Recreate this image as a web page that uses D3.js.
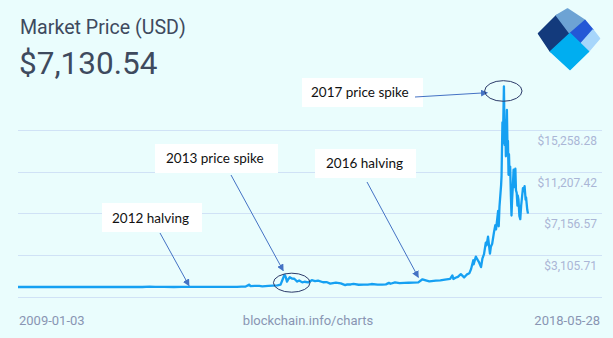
<!DOCTYPE html>
<html>
<head>
<meta charset="utf-8">
<script src="https://cdn.jsdelivr.net/npm/d3@7/dist/d3.min.js"></script>
<style>
  html, body { margin: 0; padding: 0; background: #eafdfd; }
  svg { display: block; }
</style>
</head>
<body>
<svg id="chart" width="613" height="338"></svg>
<script>
// Bitcoin market price (USD), sampled dates and prices
const dates = [
  "2009-01-03","2010-07-17","2010-11-06","2011-02-10","2011-04-20","2011-06-08","2011-07-15","2011-09-15","2011-11-18",
  "2012-01-08","2012-03-15","2012-06-15","2012-08-16","2012-10-15","2012-11-28",
  "2013-01-15","2013-02-15","2013-03-15","2013-04-09","2013-04-16","2013-05-15","2013-06-15","2013-07-05","2013-08-15",
  "2013-09-15","2013-10-15","2013-11-05","2013-11-18","2013-11-30","2013-12-04","2013-12-10","2013-12-18","2013-12-27",
  "2014-01-06","2014-01-20","2014-02-05","2014-02-25","2014-03-10","2014-03-31","2014-04-15","2014-05-10","2014-06-03",
  "2014-06-25","2014-07-15","2014-08-18","2014-09-10","2014-10-05","2014-11-12","2014-12-15",
  "2015-01-14","2015-01-28","2015-02-20","2015-03-11","2015-04-14","2015-05-20","2015-06-15","2015-07-10","2015-08-20",
  "2015-09-20","2015-10-15","2015-11-04","2015-11-15","2015-12-15",
  "2016-01-15","2016-02-15","2016-03-15","2016-04-15","2016-05-20","2016-06-17","2016-07-09","2016-08-02","2016-09-15",
  "2016-10-15","2016-11-15","2016-12-20",
  "2017-01-04","2017-01-11","2017-01-25","2017-02-10","2017-03-02","2017-03-24","2017-04-10","2017-04-28","2017-05-10",
  "2017-05-25","2017-05-27","2017-06-11","2017-06-20","2017-07-01","2017-07-16","2017-07-25","2017-08-05","2017-08-17",
  "2017-08-22","2017-09-01","2017-09-14","2017-09-20","2017-09-29","2017-10-12","2017-10-20","2017-10-25","2017-11-08",
  "2017-11-12","2017-11-17","2017-11-28","2017-12-01","2017-12-07","2017-12-10","2017-12-17","2017-12-22","2017-12-26",
  "2017-12-30","2018-01-06","2018-01-10","2018-01-13","2018-01-17","2018-01-20","2018-01-24","2018-01-28","2018-02-02",
  "2018-02-06","2018-02-10","2018-02-14","2018-02-20","2018-02-24","2018-03-04","2018-03-08","2018-03-13","2018-03-18",
  "2018-03-20","2018-03-25","2018-03-31","2018-04-06","2018-04-12","2018-04-24","2018-04-27","2018-05-05","2018-05-12",
  "2018-05-15","2018-05-23","2018-05-28"
];
const prices = [
  0,0.05,0.4,1.0,1.5,29.6,14,5,2.3,
  7,5,6.5,13.5,12,12.3,
  14,27,47,230,90,115,100,70,100,
  125,150,230,700,1150,1150,950,520,760,
  950,820,800,530,630,450,510,440,660,
  580,620,460,480,330,420,350,
  180,260,245,295,218,235,235,290,230,
  230,255,400,315,440,
  375,400,415,430,445,750,650,540,610,
  640,710,790,
  1130,780,900,990,1250,930,1200,1330,1750,
  2600,2200,2950,2700,2450,1930,2750,3200,4300,
  4050,4900,3250,3900,4200,5400,6000,5600,7400,
  5900,7800,9900,10800,16000,14000,19500,13800,16200,
  12700,17200,13500,14200,10900,12900,10900,11700,8800,
  6950,8500,9500,11400,9700,11500,9400,9150,7900,
  8900,8500,6900,6600,7900,9600,9300,9800,8500,
  8700,7500,7130.54
];

// Axis ticks
const yTicks = [3105.71, 7156.57, 11207.42, 15258.28];
const xStartLabel = "2009-01-03";
const xEndLabel = "2018-05-28";

// Header text
const chartTitle = "Market Price (USD)";
const currentPrice = "$7,130.54";
const sourceLabel = "blockchain.info/charts";

// Callouts: label, arrow tip [date, price], optional circled point [date, price]
const calloutLabels = ["2012 halving", "2013 price spike", "2016 halving", "2017 price spike"];
const calloutTips = [["2012-02-28", 130], ["2013-11-23", 1584], ["2016-05-20", 943], ["2017-08-27", 18886]];
const calloutRings = [null, ["2014-01-19", 418], null, ["2017-12-13", 19051]];

const parse = d3.utcParse("%Y-%m-%d");
const series = dates.map((d, i) => ({ date: parse(d), price: prices[i] }));

const svg = d3.select("#chart");

const x = d3.scaleUtc()
  .domain([parse(xStartLabel), parse(xEndLabel)])
  .range([18, 528]);
const y = d3.scaleLinear()
  .domain([0, yTicks[yTicks.length - 1]])
  .range([287, 130]);

// Gridlines: one per tick plus a baseline one step below the first tick
const step = yTicks[1] - yTicks[0];
const gridVals = [yTicks[0] - step, ...yTicks];
svg.append("g").selectAll("line").data(gridVals).join("line")
  .attr("x1", 18).attr("x2", 602)
  .attr("y1", d => Math.round(y(d)) + 0.5).attr("y2", d => Math.round(y(d)) + 0.5)
  .attr("stroke", "#d0e2f6").attr("stroke-width", 1);

// Y tick labels, hanging beneath their gridlines
svg.append("g").selectAll("text").data(yTicks).join("text")
  .attr("x", 597).attr("y", d => y(d) + 15)
  .attr("text-anchor", "end")
  .attr("font-family", "Roboto, sans-serif").attr("font-size", 12)
  .attr("fill", "#aab6d6")
  .text(d => "$" + d3.format(",.2f")(d));

// Price line
const line = d3.line().x(d => x(d.date)).y(d => y(d.price));
svg.append("path").datum(series)
  .attr("d", line)
  .attr("fill", "none")
  .attr("stroke", "#16a0f2")
  .attr("stroke-width", 2.3)
  .attr("stroke-linejoin", "round");

// Header
svg.append("text").attr("x", 20).attr("y", 34)
  .attr("font-family", "Roboto, sans-serif").attr("font-size", 19.6)
  .attr("fill", "#3e4a5e").text(chartTitle);
svg.append("text").attr("x", 19).attr("y", 74)
  .attr("font-family", "Roboto, sans-serif").attr("font-size", 31.5)
  .attr("fill", "#3e4a5e").text(currentPrice);

// Footer
const foot = svg.append("g")
  .attr("font-family", "Roboto, sans-serif").attr("font-size", 13)
  .attr("fill", "#8995b3");
foot.append("text").attr("x", 19).attr("y", 325).text(xStartLabel);
foot.append("text").attr("x", 308).attr("y", 325).attr("text-anchor", "middle").text(sourceLabel);
foot.append("text").attr("x", 600).attr("y", 325).attr("text-anchor", "end").text(xEndLabel);

// Logo
const logo = svg.append("g").attr("stroke-linejoin", "round").attr("stroke-width", 1.5);
const logoParts = [
  { fill: "#133a7c", pts: [[538.5,33.5],[556.5,15.5],[570,33.5],[550.5,51.5]] },
  { fill: "#6da3d4", pts: [[556.5,15.5],[567.5,9],[585,20.5],[570,33.5]] },
  { fill: "#2458d6", pts: [[585,20.5],[593,30],[581.5,43],[570,33.5]] },
  { fill: "#a7d6fb", pts: [[593,30],[599.5,38.5],[588.5,51.5],[581.5,43]] },
  { fill: "#00aef0", pts: [[550.5,51.5],[570,33.5],[588.5,51.5],[570,69.5]] }
];
logo.selectAll("polygon").data(logoParts).join("polygon")
  .attr("points", d => d.pts.map(p => p.join(",")).join(" "))
  .attr("fill", d => d.fill).attr("stroke", d => d.fill);

// Callouts
const defs = svg.append("defs");
defs.append("marker").attr("id", "arrowhead")
  .attr("viewBox", "0 0 10 10").attr("refX", 9).attr("refY", 5)
  .attr("markerWidth", 7).attr("markerHeight", 7).attr("orient", "auto")
  .attr("markerUnits", "userSpaceOnUse")
  .append("path").attr("d", "M0,0 L10,5 L0,10 Z").attr("fill", "#4472c4");

const boxes = [
  { x: 102, y: 203, w: 100, h: 29, tx: 112, ty: 223, from: [160, 233] },
  { x: 155, y: 144, w: 123, h: 29, tx: 166, ty: 163, from: [231, 175] },
  { x: 315, y: 149, w: 101, h: 29, tx: 326, ty: 168, from: [367, 182] },
  { x: 302, y: 78, w: 121, h: 29, tx: 311, ty: 97, from: [415, 97] }
];
const ringSize = [null, [18.3, 9.5], null, [18.7, 10.3]];

calloutLabels.forEach((label, i) => {
  const b = boxes[i];
  const g = svg.append("g");
  g.append("rect").attr("x", b.x).attr("y", b.y).attr("width", b.w).attr("height", b.h).attr("fill", "#ffffff");
  g.append("text").attr("x", b.tx).attr("y", b.ty)
    .attr("font-family", "Lato, 'Open Sans', sans-serif").attr("font-size", 13.5)
    .attr("fill", "#111111").text(label);
  const tip = calloutTips[i];
  g.append("line")
    .attr("x1", b.from[0]).attr("y1", b.from[1])
    .attr("x2", x(parse(tip[0]))).attr("y2", y(tip[1]))
    .attr("stroke", "#4472c4").attr("stroke-width", 1)
    .attr("marker-end", "url(#arrowhead)");
  const ring = calloutRings[i];
  if (ring) {
    g.append("ellipse")
      .attr("cx", x(parse(ring[0]))).attr("cy", y(ring[1]))
      .attr("rx", ringSize[i][0]).attr("ry", ringSize[i][1])
      .attr("fill", "none").attr("stroke", "#2c3b6a").attr("stroke-width", 1);
  }
});
</script>
</body>
</html>
